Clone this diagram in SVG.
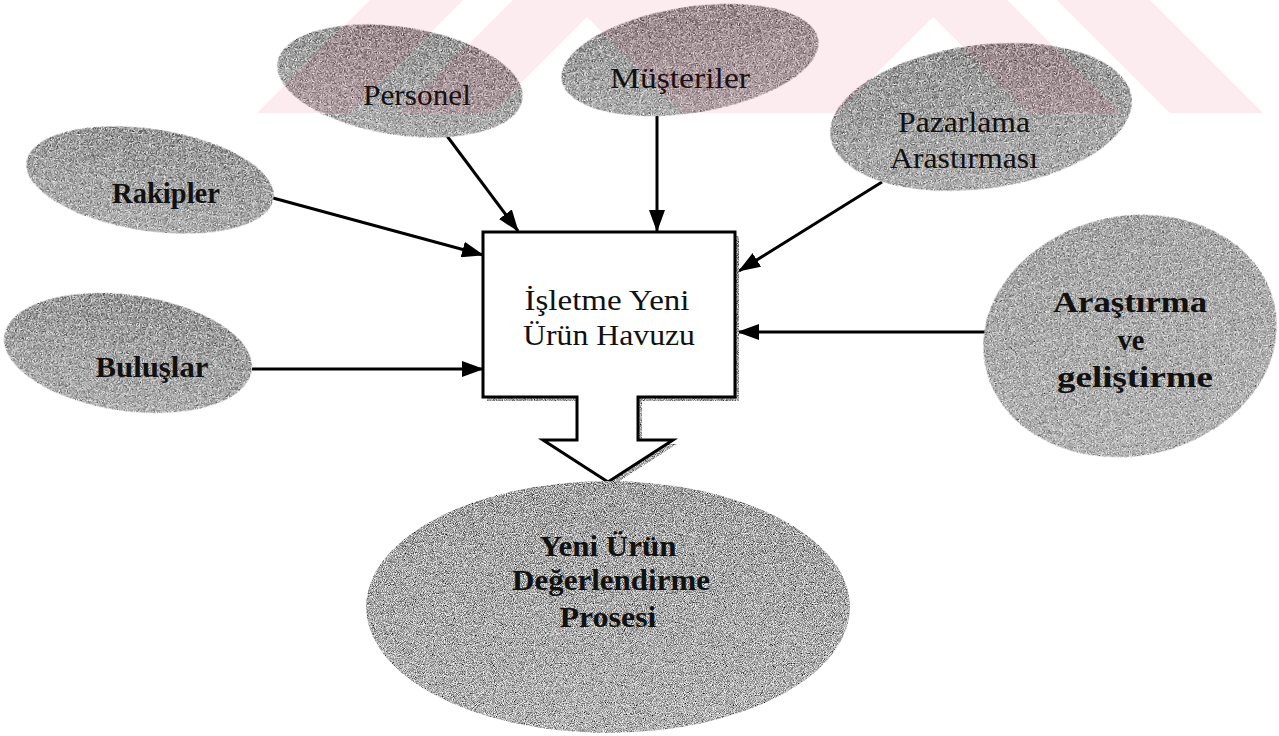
<svg xmlns="http://www.w3.org/2000/svg" width="1279" height="736" viewBox="0 0 1279 736">
  <defs>
    <style>
      .blob { fill: url(#shade); filter: url(#grain); }
      .blob2 { fill: url(#shade2); filter: url(#grain); }
      .lbl { font-family: "Liberation Serif", "Times New Roman", serif; font-size: 30px; fill: #111; text-anchor: middle; }
      .b { font-weight: bold; }
      .wire { stroke: #000; stroke-width: 3; fill: none; marker-end: url(#head); }
      .wm { fill: #e0002a; opacity: 0.075; }
    </style>
    <linearGradient id="shade" x1="0" y1="0" x2="0" y2="1">
      <stop offset="0" stop-color="#6a6a6a"/>
      <stop offset="0.55" stop-color="#8a8a8a"/>
      <stop offset="1" stop-color="#a0a0a0"/>
    </linearGradient>
    <linearGradient id="shade2" x1="0" y1="0" x2="0" y2="1">
      <stop offset="0" stop-color="#8e8e8e"/>
      <stop offset="1" stop-color="#a8a8a8"/>
    </linearGradient>
    <filter id="grain" x="-5%" y="-5%" width="110%" height="110%">
      <feTurbulence type="fractalNoise" baseFrequency="1.1" numOctaves="1" seed="7" result="noise"/>
      <feColorMatrix in="noise" type="matrix" values="0 0 0 0 0  0 0 0 0 0  0 0 0 0 0  3 0 0 0 -1.25" result="dark"/>
      <feColorMatrix in="noise" type="matrix" values="0 0 0 0 1  0 0 0 0 1  0 0 0 0 1  0 3 0 0 -1.3" result="light"/>
      <feMerge result="mix"><feMergeNode in="SourceGraphic"/><feMergeNode in="dark"/><feMergeNode in="light"/></feMerge>
      <feComposite in="mix" in2="SourceAlpha" operator="in"/>
    </filter>
    <marker id="head" viewBox="0 0 22 16" refX="21" refY="8" markerWidth="22" markerHeight="16" markerUnits="userSpaceOnUse" orient="auto">
      <path d="M0,0 L22,8 L0,16 z" fill="#000"/>
    </marker>
  </defs>

  <rect width="1279" height="736" fill="#fff"/>

  <!-- connectors -->
  <g id="connectors">
    <line class="wire" x1="447" y1="136" x2="518" y2="231"/>
    <line class="wire" x1="657" y1="116" x2="657" y2="231"/>
    <line class="wire" x1="882" y1="182" x2="739" y2="271"/>
    <line class="wire" x1="273" y1="198" x2="483" y2="255"/>
    <line class="wire" x1="252" y1="369" x2="483" y2="369"/>
    <line class="wire" x1="985" y1="332" x2="738" y2="332"/>
  </g>

  <!-- source nodes -->
  <g id="node-rakipler">
    <ellipse class="blob" cx="150" cy="180" rx="125" ry="51" transform="rotate(8.5 150 180)"/>
    <text class="lbl b" x="166" y="203" textLength="108" lengthAdjust="spacingAndGlyphs">Rakipler</text>
  </g>
  <g id="node-personel">
    <ellipse class="blob" cx="400" cy="81" rx="124" ry="54" transform="rotate(8.6 400 81)"/>
    <text class="lbl" x="417" y="105" textLength="108" lengthAdjust="spacingAndGlyphs">Personel</text>
  </g>
  <g id="node-musteriler">
    <ellipse class="blob" cx="690" cy="60" rx="130" ry="53" transform="rotate(-9 690 60)"/>
    <text class="lbl" x="680" y="88" textLength="140" lengthAdjust="spacingAndGlyphs">Müşteriler</text>
  </g>
  <g id="node-pazarlama">
    <ellipse class="blob" cx="981" cy="117" rx="152" ry="72" transform="rotate(-7.5 981 117)"/>
    <text class="lbl" x="964" y="132" textLength="132" lengthAdjust="spacingAndGlyphs">Pazarlama</text>
    <text class="lbl" x="964" y="168" textLength="148" lengthAdjust="spacingAndGlyphs">Arastırması</text>
  </g>
  <g id="node-buluslar">
    <ellipse class="blob" cx="128" cy="353" rx="125" ry="58" transform="rotate(8 128 353)"/>
    <text class="lbl b" x="152" y="377" textLength="113" lengthAdjust="spacingAndGlyphs">Buluşlar</text>
  </g>
  <g id="node-arge">
    <ellipse class="blob2" cx="1130" cy="336" rx="148" ry="120" transform="rotate(-12 1130 336)"/>
    <text class="lbl b" x="1130" y="312" textLength="154" lengthAdjust="spacingAndGlyphs">Araştırma</text>
    <text class="lbl b" x="1131" y="350" textLength="27" lengthAdjust="spacingAndGlyphs">ve</text>
    <text class="lbl b" x="1135" y="387" textLength="156" lengthAdjust="spacingAndGlyphs">geliştirme</text>
  </g>

  <!-- central pool box with its outflow block arrow -->
  <g id="node-havuz">
    <path d="M487,236 H739 V401 H642 V444 H677 L612,486 L547,444 H581 V401 H487 Z" class="blob"/>
    <path d="M483,232 H735 V397 H638 V440 H673 L608,482 L543,440 H577 V397 H483 Z" fill="#fff" stroke="#000" stroke-width="3"/>
    <text class="lbl" x="607" y="310" textLength="165" lengthAdjust="spacingAndGlyphs">İşletme Yeni</text>
    <text class="lbl" x="609" y="345" textLength="172" lengthAdjust="spacingAndGlyphs">Ürün Havuzu</text>
  </g>

  <!-- evaluation process -->
  <g id="node-proses">
    <ellipse class="blob2" cx="608" cy="607" rx="242" ry="126"/>
    <text class="lbl b" x="608" y="556" textLength="137" lengthAdjust="spacingAndGlyphs">Yeni Ürün</text>
    <text class="lbl b" x="611" y="590" textLength="198" lengthAdjust="spacingAndGlyphs">Değerlendirme</text>
    <text class="lbl b" x="608" y="627" textLength="97" lengthAdjust="spacingAndGlyphs">Prosesi</text>
  </g>

  <!-- faint striped emblem across the top edge -->
  <g id="emblem">
    <polygon class="wm" points="370,0 463,0 350,113 257,113"/>
    <polygon class="wm" points="1057,0 1150,0 1263,113 1170,113"/>
    <polygon class="wm" points="513,0 1007,0 1120,113 1029,113 933,17 837,113 683,113 587,17 491,113 400,113"/>
  </g>
</svg>
